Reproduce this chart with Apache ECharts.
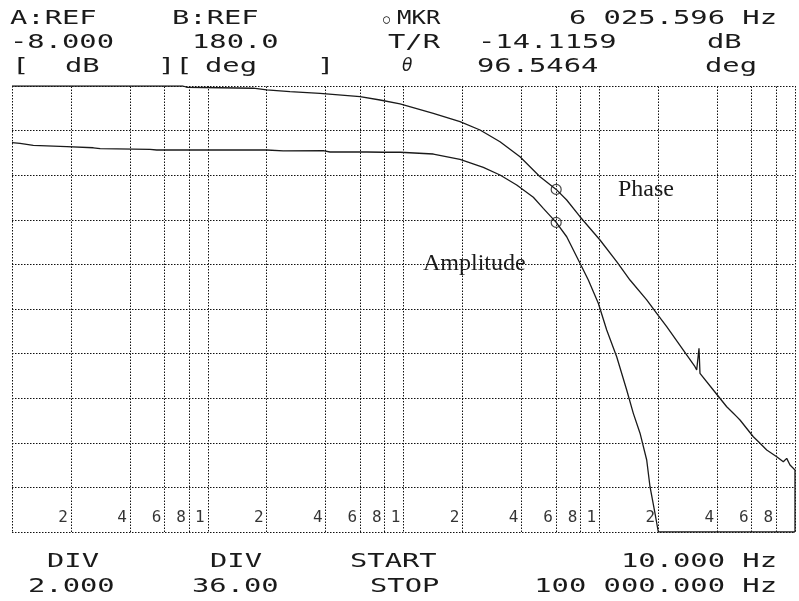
<!DOCTYPE html>
<html>
<head>
<meta charset="utf-8">
<script src="https://cdn.jsdelivr.net/npm/echarts@6/dist/echarts.min.js"></script>
<style>
  html, body { margin: 0; padding: 0; background: #ffffff; }
  #chart { width: 799px; height: 601px; }
</style>
</head>
<body>
<div id="chart"></div>
<script>
// Analyzer settings
const ampRef = -8.0;      // dB, top of screen
const ampDiv = 2.0;       // dB per division
const phaseRef = 180.0;   // deg, top of screen
const phaseDiv = 36.0;    // deg per division
const startHz = 10;
const stopHz = 100000;

// Marker readout
const markerHz = 6025.596;
const markerDb = -14.1159;
const markerDeg = 96.5464;

// Amplitude trace (Hz, dB)
const ampFreq = [10, 10.99, 12.85, 19.03, 26.03, 28.2, 50.7, 54.85, 91.3, 200, 243, 389, 421, 649, 788, 960,
  1420, 1944, 2557, 3112, 3787, 4605, 5178, 6025.596, 6819, 7973, 8794,
  9890, 10917, 12277, 13810, 14930, 16155, 17475, 18168, 19268, 20033, 40000, 100000];
const ampDb = [-10.54, -10.57, -10.66, -10.72, -10.77, -10.81, -10.84, -10.87, -10.87, -10.87, -10.91, -10.90, -10.96, -10.96, -10.97, -10.97,
  -11.05, -11.29, -11.65, -11.99, -12.44, -12.99, -13.49, -14.1159, -14.76, -15.95, -16.70,
  -17.74, -18.94, -20.14, -21.63, -22.68, -23.57, -24.77, -25.97, -27.16, -28.0, -28.0, -28.0];

// Phase trace (Hz, deg)
const phaseFreq = [10, 74.7, 78.0, 171, 200, 263, 374.5, 600, 759, 960,
  1420, 1944, 2460, 3112, 3937, 4982, 6025.596, 6819, 7973, 10088, 12277, 14357,
  17475, 19655, 22110, 26880, 30840, 31460, 32330, 32710, 38250, 44790, 48410, 50380, 52360,
  61240, 66270, 71700, 80640, 87160, 90700, 94300, 100000, 100000];
const phaseDeg = [180, 180, 179.0, 178.2, 176.8, 175.4, 174.1, 171.4, 168.7, 165.5,
  158.0, 151.2, 144.5, 135.0, 122.9, 106.8, 96.5464, 88.0, 74.5, 55.7, 38.2, 23.4,
  7.3, -3.5, -14.3, -33.1, -46.6, -49.2, -31.7, -52.0, -65.4, -78.9, -84.2, -86.9, -89.6,
  -103.1, -108.4, -113.8, -119.2, -123.3, -120.6, -125.9, -130.0, -180];

// Frequency grid inside each decade, with its scale labels
const gridFreqs = [20, 40, 60, 80, 100, 200, 400, 600, 800, 1000, 2000, 4000, 6000, 8000, 10000, 20000, 40000, 60000, 80000];
const gridLabels = ['2', '4', '6', '8', '1', '2', '4', '6', '8', '1', '2', '4', '6', '8', '1', '2', '4', '6', '8'];

const ampMin = ampRef - 10 * ampDiv;
const phaseMin = phaseRef - 10 * phaseDiv;

const MONO = '"DejaVu Sans Mono", "Liberation Mono", monospace';
const INK = '#1a1a1a';
const GRID = '#111111';
const DOT = [1.5, 1.5];

function zip(xs, ys) { return xs.map((x, i) => [x, ys[i]]); }
function isDecade(f) { return Math.abs(Math.log10(f) - Math.round(Math.log10(f))) < 1e-9; }

// Stretched plotter-style screen text
function screenText(str, x, y, align, opts) {
  opts = opts || {};
  const a = align || 'left';
  return {
    type: 'text', x: x, y: y, silent: true,
    scaleX: opts.scaleX || 1.44, scaleY: 1,
    style: {
      text: str,
      font: opts.font || ('20px ' + MONO),
      fill: INK,
      align: a, textAlign: a,
      verticalAlign: 'middle', textVerticalAlign: 'middle'
    }
  };
}

function fixed(v, d) { return v.toFixed(d); }
function spacedHz(v, d) {
  const parts = v.toFixed(d).split('.');
  const intPart = parts[0].replace(/\B(?=(\d{3})+(?!\d))/g, ' ');
  return intPart + '.' + parts[1];
}

const chart = echarts.init(document.getElementById('chart'), null, { renderer: 'canvas' });

const markerStyle = { color: 'rgba(0,0,0,0)', borderColor: INK, borderWidth: 1.2 };

const option = {
  backgroundColor: '#ffffff',
  animation: false,
  grid: { left: 12, top: 86, width: 783, height: 446, containLabel: false, show: false },
  xAxis: {
    type: 'log', logBase: 10, min: startHz, max: stopHz,
    axisLine: { show: false }, axisTick: { show: false }, axisLabel: { show: false },
    splitLine: { show: true, lineStyle: { type: DOT, color: GRID, width: 1 } }
  },
  yAxis: [
    {
      type: 'value', min: ampMin, max: ampRef, interval: ampDiv,
      axisLine: { show: false }, axisTick: { show: false }, axisLabel: { show: false },
      splitLine: { show: true, showMinLine: true, showMaxLine: true, lineStyle: { type: DOT, color: GRID, width: 1 } }
    },
    {
      type: 'value', min: phaseMin, max: phaseRef, interval: phaseDiv,
      axisLine: { show: false }, axisTick: { show: false }, axisLabel: { show: false },
      splitLine: { show: false }
    }
  ],
  series: [
    {
      name: 'Amplitude', type: 'line', yAxisIndex: 0,
      data: zip(ampFreq, ampDb), showSymbol: false, smooth: false,
      lineStyle: { color: INK, width: 1.3 },
      markLine: {
        silent: true, symbol: ['none', 'none'], label: { show: false },
        lineStyle: { type: DOT, color: GRID, width: 1 },
        data: gridFreqs.filter(f => !isDecade(f)).map(f => ({ xAxis: f }))
      },
      z: 3
    },
    {
      name: 'Phase', type: 'line', yAxisIndex: 1,
      data: zip(phaseFreq, phaseDeg), showSymbol: false, smooth: false,
      lineStyle: { color: INK, width: 1.3 },
      z: 3
    },
    {
      name: 'Marker', type: 'scatter', yAxisIndex: 0,
      data: [[markerHz, markerDb]], symbol: 'circle', symbolSize: 10,
      itemStyle: markerStyle, z: 4
    },
    {
      name: 'MarkerPhase', type: 'scatter', yAxisIndex: 1,
      data: [[markerHz, markerDeg]], symbol: 'circle', symbolSize: 10,
      itemStyle: markerStyle, z: 4
    },
    {
      name: 'FreqScale', type: 'scatter', yAxisIndex: 0, silent: true,
      data: gridFreqs.map((f, i) => ({ value: [f, ampMin], label: { formatter: gridLabels[i] } })),
      symbolSize: 0,
      label: {
        show: true, position: 'left', distance: 3, offset: [0, -14],
        fontFamily: 'DejaVu Sans Mono', fontSize: 16, color: '#000'
      },
      z: 5
    }
  ],
  graphic: [
    // header
    screenText('A:REF', 10, 19),
    screenText('B:REF', 172, 19),
    screenText('\u25CB', 383, 20, 'left', { font: '12px ' + MONO, scaleX: 1 }),
    screenText('MKR', 397, 19, 'left', { scaleX: 1.2 }),
    screenText(spacedHz(markerHz, 3) + ' Hz', 777, 19, 'right'),
    screenText(fixed(ampRef, 3), 10, 43),
    screenText(fixed(phaseRef, 1), 192, 43),
    screenText('T/R', 388, 43),
    screenText(fixed(markerDb, 4), 478, 43),
    screenText('dB', 707, 43),
    screenText('[', 12, 67),
    screenText('dB', 65, 67),
    screenText('][', 158, 67),
    screenText('deg', 205, 67),
    screenText(']', 317, 67),
    screenText('\u03B8', 402, 67, 'left', { font: 'italic 17px "DejaVu Sans"', scaleX: 1 }),
    screenText(fixed(markerDeg, 4), 477, 67),
    screenText('deg', 705, 67),
    // footer
    screenText('DIV', 47, 562),
    screenText('DIV', 210, 562),
    screenText('START', 350, 562),
    screenText(fixed(startHz, 3) + ' Hz', 777, 562, 'right'),
    screenText(fixed(ampDiv, 3), 28, 587),
    screenText(fixed(phaseDiv, 2), 192, 587),
    screenText('STOP', 370, 587),
    screenText(spacedHz(stopHz, 3) + ' Hz', 777, 587, 'right'),
    // trace names
    {
      type: 'text', x: 618, y: 190, silent: true,
      style: { text: 'Phase', font: '24px "Liberation Serif", "Times New Roman", serif', fill: INK,
        align: 'left', textAlign: 'left', verticalAlign: 'middle', textVerticalAlign: 'middle' }
    },
    {
      type: 'text', x: 423, y: 264, silent: true,
      style: { text: 'Amplitude', font: '24px "Liberation Serif", "Times New Roman", serif', fill: INK,
        align: 'left', textAlign: 'left', verticalAlign: 'middle', textVerticalAlign: 'middle' }
    }
  ]
};

chart.setOption(option);
</script>
</body>
</html>
